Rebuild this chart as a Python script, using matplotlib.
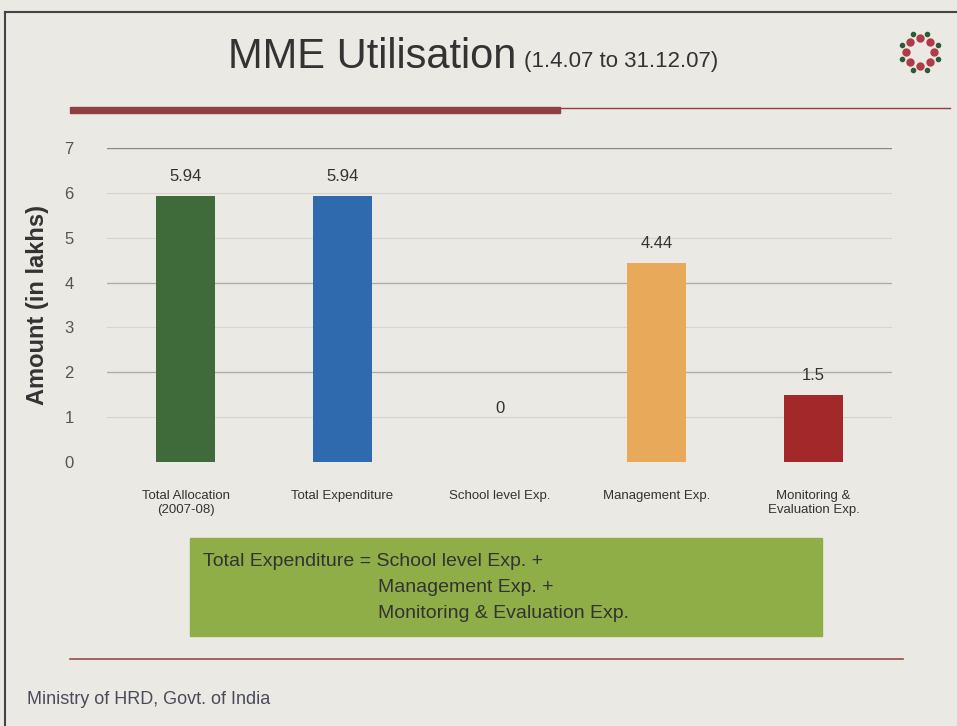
import matplotlib
matplotlib.use("Agg")
import matplotlib.pyplot as plt
from matplotlib.patches import Rectangle
from matplotlib.lines import Line2D
import numpy as np

categories = ["Total Allocation\n(2007-08)", "Total Expenditure", "School level Exp.",
              "Management Exp.", "Monitoring &\nEvaluation Exp."]
values = [5.94, 5.94, 0, 4.44, 1.5]
value_labels = ["5.94", "5.94", "0", "4.44", "1.5"]
colors = ["#3f6b3b", "#2f6aae", "#d9d7d2", "#e9a95a", "#a3282a"]

W, H = 957, 726
plt.rcParams['font.family'] = ['Liberation Sans', 'DejaVu Sans']

fig = plt.figure(figsize=(W / 100, H / 100), dpi=100)
fig.patch.set_facecolor("#ebe9e4")

def fx(x):
    return x / W

def fy(y):
    return 1 - y / H

# slide frame
fig.add_artist(Line2D([fx(5), fx(957)], [fy(12), fy(12)], color="#444444", lw=1.5))
fig.add_artist(Line2D([fx(5), fx(5)], [fy(12), fy(726)], color="#444444", lw=1.5))

# title
fig.text(fx(228), fy(57), "MME Utilisation", fontsize=30, color="#333333", va="center", ha="left")
fig.text(fx(524), fy(62), "(1.4.07 to 31.12.07)", fontsize=16, color="#333333", va="center", ha="left")

# rule under title
fig.add_artist(Rectangle((fx(70), fy(113)), fx(490), 6 / H, color="#8e3f3f"))
fig.add_artist(Line2D([fx(560), fx(950)], [fy(108), fy(108)], color="#8e3f3f", lw=1))

# logo (simple ring of dots)
ang = np.linspace(0, 2 * np.pi, 9)[:-1]
fig.add_artist(Line2D(fx(920) + np.cos(ang) * 14 / W, fy(52) + np.sin(ang) * 14 / H,
                      ls="none", marker="o", ms=5, color="#b03a48"))
fig.add_artist(Line2D(fx(920) + np.cos(ang + 0.39) * 19 / W, fy(52) + np.sin(ang + 0.39) * 19 / H,
                      ls="none", marker="o", ms=3, color="#2c5a3a"))

# chart
ax = fig.add_axes([fx(107), fy(462), fx(785), (462 - 148) / H])
ax.set_facecolor("none")
x = np.arange(len(categories))
ax.bar(x, values, width=0.38, color=colors, zorder=3)
ax.set_xlim(-0.5, 4.5)
ax.set_ylim(0, 7)
ax.set_yticks(range(8))
for g in [1, 3, 5, 6]:
    ax.axhline(g, color="#d6d4cf", lw=0.8, zorder=0)
for g in [2, 4]:
    ax.axhline(g, color="#b0aea9", lw=1, zorder=0)
for s in ax.spines.values():
    s.set_visible(False)
ax.axhline(7, color="#888888", lw=1, zorder=1)
ax.tick_params(axis="y", length=0, labelsize=12, labelcolor="#555555", pad=24)
ax.set_xticks(x)
ax.set_xticklabels(categories, fontsize=9.5, color="#333333")
ax.tick_params(axis="x", length=0, pad=20)
for i, (v, lab) in enumerate(zip(values, value_labels)):
    ypos = v + 0.42 if v > 0 else 1.2
    ax.text(i, ypos, lab, ha="center", va="center", fontsize=12, color="#333333")

fig.text(fx(38), fy(305), "Amount (in lakhs)", rotation=90, fontsize=17, fontweight="bold",
         color="#333333", ha="center", va="center")

# formula box
fig.add_artist(Rectangle((fx(190), fy(636)), fx(632), (636 - 538) / H, color="#8fae47"))
fig.text(fx(203), fy(561), "Total Expenditure = School level Exp. +", fontsize=14, color="#333333", va="center")
fig.text(fx(378), fy(588), "Management Exp. +", fontsize=14, color="#333333", va="center")
fig.text(fx(378), fy(614), "Monitoring & Evaluation Exp.", fontsize=14, color="#333333", va="center")

# footer
fig.add_artist(Line2D([fx(70), fx(903)], [fy(659), fy(659)], color="#9a4a4a", lw=1.2))
fig.text(fx(27), fy(700), "Ministry of HRD, Govt. of India", fontsize=13, color="#4a4a5a", va="center")

fig.savefig("out.png", dpi=100, facecolor=fig.get_facecolor())
